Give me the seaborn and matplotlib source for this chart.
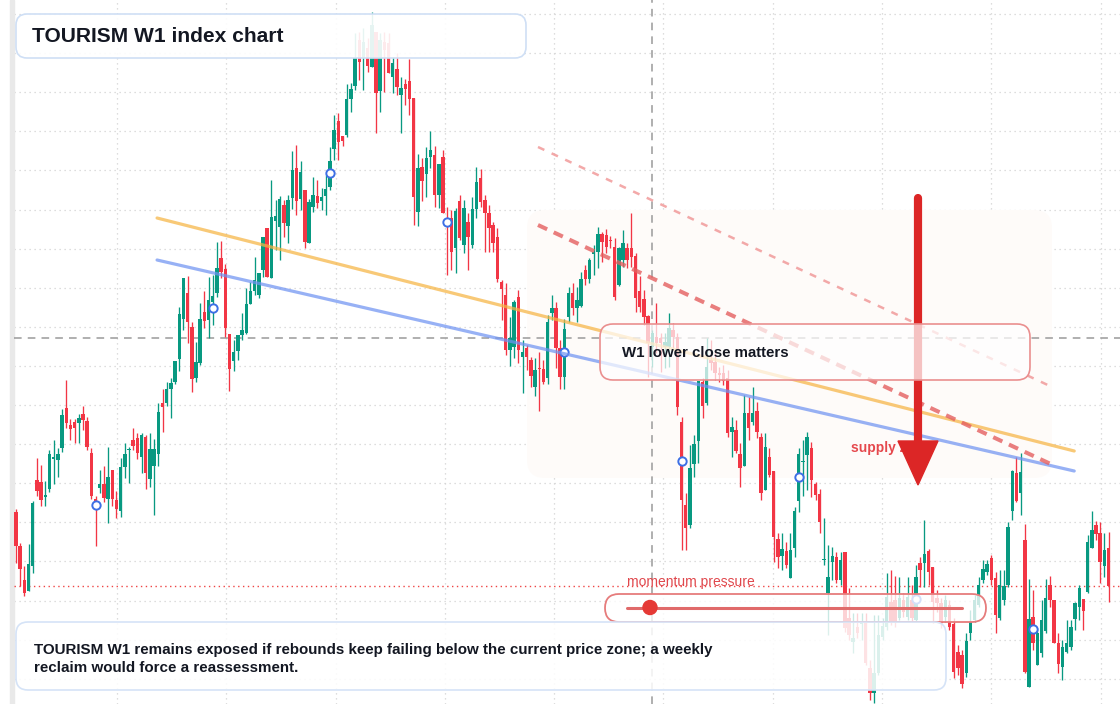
import numpy as np
import pandas as pd
import matplotlib
matplotlib.use("Agg")
import matplotlib.pyplot as plt
import seaborn as sns
from matplotlib.patches import FancyBboxPatch, Polygon, Rectangle, Circle
from matplotlib.lines import Line2D
from matplotlib.transforms import Affine2D

# ---------------- data (weekly candles, index points) ----------------
opens = [
    488, 454, 420, 409, 434, 520, 518, 503, 511, 541,
    540, 552, 592, 575, 578, 577, 586, 579, 547, 501,
    512, 516, 501, 530, 500, 489, 533, 550, 560, 562,
    543, 563, 521, 534, 546, 597, 597, 611, 618, 641,
    681, 707, 673, 622, 637, 688, 680, 698, 707, 742,
    731, 666, 639, 649, 665, 667, 696, 709, 705, 730,
    772, 722, 779, 773, 795, 774, 802, 832, 801, 810,
    757, 793, 804, 799, 804, 813, 851, 879, 864, 865,
    901, 914, 960, 942, 952, 933, 968, 909, 958, 957,
    923, 931, 905, 916, 919, 902, 788, 833, 826, 843,
    845, 805, 843, 781, 782, 752, 799, 755, 778, 755,
    791, 822, 800, 787, 775, 763, 718, 705, 650, 653,
    703, 643, 652, 640, 613, 632, 631, 622, 687, 692,
    652, 623, 683, 707, 692, 694, 730, 721, 746, 748,
    766, 765, 760, 753, 715, 740, 752, 752, 744, 709,
    701, 684, 653, 663, 662, 653, 653, 670, 663, 578,
    495, 475, 536, 559, 618, 597, 640, 638, 627, 627,
    622, 568, 570, 546, 534, 587, 578, 589, 563, 510,
    543, 529, 461, 444, 449, 422, 452, 499, 538, 545,
    552, 516, 506, 440, 407, 438, 443, 420, 448, 382,
    358, 373, 376, 378, 332, 307, 327, 363, 373, 398,
    400, 382, 400, 383, 400, 380, 437, 437, 449, 433,
    402, 397, 383, 395, 376, 348, 345, 327, 367, 380,
    395, 420, 428, 442, 422, 382, 400, 415, 489, 527,
    507, 460, 313, 383, 335, 347, 369, 415, 400, 357,
    333, 348, 353, 381, 393, 401, 408, 452, 475, 467,
    434, 452,
]
highs = [
    491, 457, 434, 456, 499, 542, 535, 519, 550, 560,
    552, 591, 620, 581, 581, 586, 594, 583, 552, 504,
    530, 534, 553, 530, 509, 542, 557, 553, 572, 567,
    567, 565, 567, 561, 597, 611, 618, 622, 639, 693,
    722, 724, 678, 658, 697, 709, 723, 725, 758, 759,
    736, 666, 660, 665, 687, 712, 718, 743, 727, 763,
    772, 820, 800, 804, 800, 805, 849, 855, 839, 810,
    801, 823, 820, 812, 825, 853, 885, 887, 864, 916,
    917, 967, 968, 972, 962, 988, 968, 967, 968, 967,
    943, 947, 923, 921, 941, 902, 846, 842, 853, 869,
    854, 836, 850, 793, 790, 792, 805, 800, 787, 803,
    833, 831, 805, 795, 778, 772, 720, 717, 683, 700,
    710, 660, 655, 643, 642, 648, 640, 685, 705, 698,
    660, 681, 713, 717, 713, 728, 735, 742, 755, 773,
    768, 771, 764, 762, 753, 770, 757, 787, 747, 724,
    710, 685, 670, 697, 667, 667, 687, 677, 667, 583,
    507, 555, 565, 619, 622, 662, 660, 650, 633, 635,
    630, 583, 580, 557, 605, 603, 613, 598, 567, 567,
    552, 529, 467, 467, 458, 467, 493, 552, 560, 568,
    558, 518, 511, 482, 455, 453, 448, 448, 448, 412,
    387, 387, 387, 387, 340, 385, 385, 382, 427, 430,
    424, 423, 407, 423, 415, 435, 443, 480, 451, 433,
    410, 402, 405, 400, 382, 355, 350, 367, 390, 405,
    423, 440, 440, 445, 428, 430, 430, 478, 530, 543,
    547, 476, 421, 410, 372, 400, 421, 424, 400, 367,
    360, 380, 380, 398, 415, 401, 465, 489, 479, 478,
    467, 468,
]
lows = [
    437, 414, 404, 409, 427, 504, 494, 494, 508, 516,
    523, 548, 572, 560, 557, 557, 570, 550, 501, 454,
    507, 498, 477, 494, 482, 483, 522, 517, 550, 541,
    527, 511, 513, 485, 534, 568, 594, 582, 616, 629,
    670, 657, 608, 618, 635, 672, 662, 675, 703, 722,
    663, 609, 629, 640, 660, 666, 696, 705, 702, 723,
    723, 722, 750, 740, 763, 757, 791, 785, 790, 752,
    757, 788, 792, 790, 785, 810, 840, 840, 854, 863,
    888, 910, 920, 910, 928, 933, 867, 888, 908, 927,
    907, 905, 867, 895, 885, 775, 774, 799, 803, 832,
    793, 792, 787, 725, 730, 727, 760, 747, 730, 752,
    782, 793, 748, 748, 748, 718, 680, 645, 634, 642,
    637, 607, 630, 613, 604, 589, 616, 616, 680, 632,
    611, 611, 678, 685, 678, 693, 715, 717, 725, 732,
    738, 747, 752, 700, 714, 733, 732, 733, 688, 688,
    675, 623, 633, 647, 628, 632, 633, 652, 585, 450,
    450, 472, 523, 537, 582, 595, 630, 620, 618, 615,
    563, 543, 547, 513, 534, 560, 575, 562, 500, 510,
    523, 438, 432, 430, 432, 422, 443, 488, 504, 510,
    503, 500, 467, 435, 365, 420, 417, 415, 368, 360,
    347, 362, 360, 335, 300, 297, 325, 360, 370, 375,
    373, 380, 383, 380, 378, 378, 413, 413, 415, 377,
    388, 372, 378, 370, 322, 325, 312, 323, 360, 378,
    393, 417, 425, 415, 367, 380, 395, 413, 480, 498,
    485, 327, 313, 350, 335, 343, 367, 393, 357, 327,
    320, 347, 350, 370, 380, 370, 407, 452, 460, 417,
    423, 398,
]
closes = [
    454, 431, 407, 436, 497, 509, 500, 505, 546, 543,
    546, 585, 577, 571, 572, 582, 580, 553, 504, 499,
    516, 502, 523, 501, 491, 533, 546, 551, 554, 547,
    565, 527, 551, 551, 588, 593, 611, 617, 639, 686,
    722, 678, 621, 638, 681, 679, 700, 704, 732, 728,
    672, 631, 648, 665, 670, 696, 709, 720, 727, 763,
    723, 783, 784, 801, 777, 800, 830, 799, 828, 758,
    798, 805, 797, 803, 811, 839, 870, 858, 859, 901,
    911, 942, 938, 958, 934, 975, 907, 960, 950, 927,
    937, 913, 912, 911, 901, 803, 832, 819, 842, 850,
    805, 836, 787, 778, 748, 789, 762, 792, 763, 791,
    818, 798, 787, 772, 757, 721, 711, 650, 662, 698,
    650, 648, 643, 624, 630, 631, 618, 678, 692, 652,
    623, 671, 707, 692, 700, 721, 721, 740, 748, 766,
    758, 753, 759, 703, 752, 757, 740, 743, 702, 693,
    683, 657, 667, 657, 657, 658, 672, 663, 593, 500,
    472, 532, 556, 619, 594, 633, 637, 627, 625, 619,
    567, 573, 549, 532, 587, 572, 587, 568, 507, 553,
    525, 463, 443, 451, 435, 450, 489, 546, 539, 563,
    520, 505, 478, 441, 423, 444, 420, 440, 372, 365,
    362, 367, 378, 337, 307, 327, 365, 374, 403, 377,
    377, 402, 388, 403, 382, 423, 430, 446, 428, 398,
    397, 377, 400, 373, 328, 332, 316, 359, 378, 400,
    415, 431, 436, 420, 385, 415, 414, 473, 529, 499,
    528, 328, 381, 357, 367, 380, 402, 400, 357, 336,
    353, 357, 373, 397, 412, 389, 458, 470, 466, 438,
    450, 414,
]
marker_bars = [19, 47, 75, 103, 131, 159, 187, 215, 243]
marker_vals = [495, 692, 827, 778, 648, 539, 523, 401, 371]

# trend / channel lines: (bar index, level)
orange_line_x = [33.7, 252.8]
orange_line_y = [782, 549]
blue_line_x = [33.7, 252.8]
blue_line_y = [740, 529]
red_band_x = [124.7, 247.7]
red_band_y = [775, 535]
red_upper_x = [124.7, 247.5]
red_upper_y = [853, 613]
ref_level = 662          # grey dashed horizontal
momentum_level = 414     # red dotted horizontal
ref_bar = 151.9          # grey dashed vertical

title_text = "TOURISM W1 index chart"
note_text = ("TOURISM W1 remains exposed if rebounds keep failing below the current price zone; a weekly\n"
             "reclaim would force a reassessment.")
callout_text = "W1 lower close matters"
momentum_text = "momentum pressure"
supply_text = "supply zone"

# ---------------- style ----------------
sns.set_theme(style="white")
plt.rcParams['font.family'] = ['Liberation Sans', 'DejaVu Sans']

W, H = 1120, 704
BAR0, STEP = 16.0, 4.186
TOP = 1000.0


def bx(px):
    return (px - BAR0) / STEP


def lv(py):
    return TOP - py


GREEN = '#089981'
RED = '#f23645'
INK = '#131722'

fig = plt.figure(figsize=(W / 100, H / 100), dpi=100, facecolor='white')
ax = fig.add_axes([0, 0, 1, 1])
ax.axis('off')
PX = Affine2D().scale(1, -1).translate(0, H)   # pixel coords, origin top-left

df = pd.DataFrame({'open': opens, 'high': highs, 'low': lows, 'close': closes})
df['bar'] = np.arange(len(df))
df['up'] = df['close'] >= df['open']
cols = np.where(df['up'], GREEN, RED)

# grid
for k in range(18):
    ax.axhline(lv(14 + 39.1 * k), xmin=14 / W, xmax=1, color='#d3d3d3', lw=0.9,
               ls=(0, (1, 3)), zorder=0)
for k in range(10):
    ax.axvline(bx(117 + 109.3 * k), color='#d3d3d3', lw=0.9, ls=(0, (1, 3)), zorder=0)

ax.add_patch(Rectangle((10, 0), 4, H, transform=PX, color='#e9e9e9', zorder=0.2))

# shaded supply region
ax.add_patch(FancyBboxPatch((527, 210), 525, 268, boxstyle='round,pad=0,rounding_size=18',
                            transform=PX, fc='#fefbf9', ec='none', zorder=0.5))

# reference lines
ax.axhline(ref_level, xmin=14 / W, color='#9a9a9a', lw=1.1, ls=(0, (5, 4)), zorder=1)
ax.axvline(ref_bar, color='#9a9a9a', lw=1.1, ls=(0, (5, 4)), zorder=1)
ax.axhline(momentum_level, xmin=14 / W, color='#ef4444', lw=1.0, ls=(0, (1, 2.5)), zorder=1)

# candles
ax.vlines(df['bar'], df['low'], df['high'], colors=cols, lw=0.95, zorder=2)
body_lo = np.minimum(df['open'], df['close'])
body_h = np.maximum(np.abs(df['close'] - df['open']), 1.5)
ax.bar(df['bar'], body_h, bottom=body_lo, width=0.82, color=cols, linewidth=0, zorder=3)

# markers
sns.scatterplot(x=marker_bars, y=marker_vals, ax=ax, s=36, color='white',
                edgecolor='#3d6fe5', linewidth=1.4, zorder=4, legend=False)

# trend lines
sns.lineplot(x=orange_line_x, y=orange_line_y, ax=ax, color='#f6b443', lw=2.3,
             alpha=0.72, sort=False, estimator=None, zorder=5)
sns.lineplot(x=blue_line_x, y=blue_line_y, ax=ax, color='#6f93f2', lw=2.3,
             alpha=0.72, sort=False, estimator=None, zorder=5)
ax.plot(red_band_x, red_band_y, color='#e45f5f', lw=2.9, alpha=0.8,
        dashes=(2.5, 1.8), zorder=5)
ax.plot(red_upper_x, red_upper_y, color='#f19a9a', lw=1.8, alpha=0.85,
        dashes=(2.8, 3.2), zorder=5)

# supply label + arrow
ax.text(851, 448, supply_text, transform=PX, color='#e5484d', fontsize=9.9,
        fontweight='bold', va='center', ha='left', zorder=5.5)
ax.add_line(Line2D([918, 918], [198, 445], transform=PX, lw=5.9, color='#dc2626',
                   solid_capstyle='round', zorder=6))
ax.add_patch(Polygon([(898, 441), (938, 441), (918, 485)], closed=True, transform=PX,
                     color='#dc2626', zorder=6))

# callout box
ax.add_patch(FancyBboxPatch((600, 324), 430, 56, boxstyle='round,pad=0,rounding_size=13',
                            transform=PX, fc=(1, 1, 1, 0.72), ec='#ea8f8f', lw=1.2, zorder=7))
ax.text(622, 353, callout_text, transform=PX, color=INK, fontsize=10.8,
        fontweight='bold', va='center', ha='left', zorder=8)

# momentum pill
ax.text(627, 582, momentum_text, transform=PX, color='#e0474c', fontsize=10,
        va='center', ha='left', zorder=8)
ax.add_patch(FancyBboxPatch((605, 594), 381, 28, boxstyle='round,pad=0,rounding_size=14',
                            transform=PX, fc=(1, 1, 1, 0.78), ec='#e67c7c', lw=1.3, zorder=7))
ax.add_line(Line2D([627, 962], [607.5, 607.5], transform=PX, lw=2.2, color='#e06a6a',
                   zorder=8))
ax.add_patch(Circle((650, 607.5), 7, transform=PX, color='#e53935', zorder=9))

# title box
ax.add_patch(FancyBboxPatch((16, 14), 510, 44, boxstyle='round,pad=0,rounding_size=11',
                            transform=PX, fc=(1, 1, 1, 0.9), ec='#cfdff5', lw=1.2, zorder=7))
ax.text(32, 36.5, title_text, transform=PX, color=INK, fontsize=15.1,
        fontweight='bold', va='center', ha='left', zorder=8)

# note box
ax.add_patch(FancyBboxPatch((16, 622), 930, 68, boxstyle='round,pad=0,rounding_size=12',
                            transform=PX, fc=(1, 1, 1, 0.86), ec='#d5e3f7', lw=1.2, zorder=7))
ax.text(34, 659, note_text, transform=PX, color=INK, fontsize=10.88,
        fontweight='bold', va='center', ha='left', linespacing=1.45, zorder=8)

ax.set_xlim(bx(0), bx(W))
ax.set_ylim(TOP - H, TOP)

fig.savefig('out.png', dpi=100, facecolor='white')
